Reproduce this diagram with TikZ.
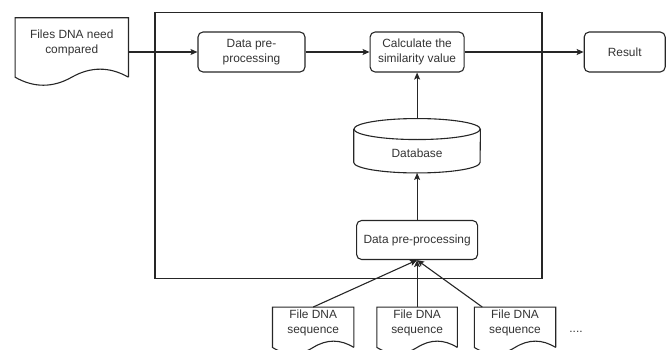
\documentclass[tikz,border=0pt]{standalone}
\usepackage{fontspec}
\setmainfont{Liberation Sans}
\usetikzlibrary{positioning, arrows.meta, calc}

% wavy bottom of a document shape, #2 = depth of the wave
\newcommand{\docoutline}[2]{%
  \draw[outline] (#1.south east) -- (#1.north east) -- (#1.north west) -- (#1.south west)
    .. controls ($(#1.south west)!1/6!(#1.south east)+(0,-#2)$) and ($(#1.south west)!1/3!(#1.south east)+(0,-#2)$) .. (#1.south)
    .. controls ($(#1.south west)!2/3!(#1.south east)+(0,#2)$) and ($(#1.south west)!5/6!(#1.south east)+(0,#2)$) .. (#1.south east);
}

\begin{document}
\begin{tikzpicture}[
        x=1pt, y=1pt,
        font=\fontsize{11.9}{15}\selectfont,
        outline/.style={draw=black!85, line width=1.1pt},
        box/.style={rectangle, outline, rounded corners=5pt, minimum height=40pt, inner sep=2pt, align=center, text=black!80},
        doc/.style={rectangle, inner sep=2pt, minimum height=40pt, minimum width=81pt, align=center, text=black!80, text depth=11.5pt},
        store/.style={rectangle, inner sep=2pt, minimum width=126.3pt, minimum height=54pt, text=black!80, text height=24.5pt},
        frame/.style={rectangle, outline, minimum width=387pt, minimum height=265.3pt},
        arrow/.style={-{Stealth[length=7pt, width=6pt, inset=1.5pt]}, outline}
    ]
        \useasboundingbox (0,0) rectangle (667,349);

        % Main frame
        \node[frame] (frame) at (348.5,203.6) {};

        % Top row
        \node[box, minimum width=107pt] (prepA) at (251.5,297) {Data pre-\\processing};
        \node[box, minimum width=94pt, right=64pt of prepA] (calc) {Calculate the\\similarity value};
        \node[box, minimum width=81pt, right=119pt of calc] (result) {Result};
        \node[doc, minimum width=113pt, minimum height=59pt, text depth=12.5pt, left=69pt of prepA, yshift=4.5pt] (src) {Files DNA need\\compared};

        % Database and pre-processing
        \node[store, below=46pt of calc] (db) {Database};
        \node[box, minimum width=121pt, minimum height=39pt, below=47pt of db] (prepB) {Data pre-processing};

        % Input files
        \node[doc, minimum width=80pt, below=47pt of prepB] (seqB) {File DNA\\sequence};
        \node[doc, left=23pt of seqB] (seqA) {File DNA\\sequence};
        \node[doc, right=17pt of seqB] (seqC) {File DNA\\sequence};
        \node[text=black!80] (more) at (576,17) {....};

        % Shapes
        \docoutline{src}{10.7pt}
        \docoutline{seqA}{8.4pt}
        \docoutline{seqB}{8.4pt}
        \docoutline{seqC}{8.4pt}
        \draw[outline] ([yshift=-10.5pt]db.north) ellipse [x radius=63.15pt, y radius=10.5pt];
        \draw[outline] ([yshift=-10.5pt]db.north west) -- ([yshift=10.5pt]db.south west)
            arc[start angle=180, end angle=360, x radius=63.15pt, y radius=10.5pt] -- ([yshift=-10.5pt]db.north east);

        % Connections
        \draw[arrow] (src.east |- prepA.west) -- (prepA.west);
        \draw[arrow] (prepA) -- (calc);
        \draw[arrow] (calc) -- (result);
        \draw[arrow] (db) -- (calc);
        \draw[arrow] (prepB) -- (db);
        \draw[arrow] (seqA.north) -- (prepB.south);
        \draw[arrow] (seqB.north) -- (prepB.south);
        \draw[arrow] ([xshift=8pt]seqC.north west) -- (prepB.south);

\end{tikzpicture}
\end{document}
